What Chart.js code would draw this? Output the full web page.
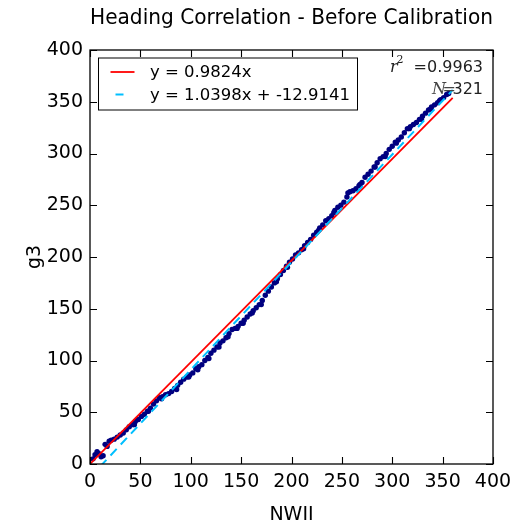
<!DOCTYPE html>
<html>
<head>
<meta charset="utf-8">
<script src="https://cdn.jsdelivr.net/npm/chart.js@4.4.1/dist/chart.umd.min.js"></script>
<style>
  html, body { margin: 0; padding: 0; background: #fff; }
  canvas { display: block; }
</style>
</head>
<body>
<canvas id="c" width="522" height="527" style="width:522px;height:527px"></canvas>
<script>
// ---- data ----
const nwiiValues = [3,5,7,9,11,13,15,17,19,21,24,27,30,33,36,39,42,45,48,51,54,57,60,63,66,69,72,75,78,81,84,87,90,93,96,99,102,105,108,111,114,117,120,123,126,129,132,135,138,141,144,147,150,153,156,159,162,165,168,171,174,177,180,183,186,189,192,195,198,201,204,207,210,213,216,219,222,225,228,231,234,237,240,243,246,249,252,255,258,261,264,267,270,273,276,279,282,285,288,291,294,297,300,303,306,309,312,315,318,321,324,327,330,333,336,339,342,345,348,351,354,356,
                    44,58,71,86,98,107,118,128,137,146,152,161,170,185,196,212,227,242,256,268,283,293,304,317,329,338,347];
const g3Values   = [5,9,12,10,7,8,19,17,22,23,24,26,28,30,33,36,38,41,43,46,48,51,54,58,61,64,65,67,68,70,73,76,79,82,84,86,88,92,94,96,100,103,107,110,113,117,119,122,126,130,131,133,136,139,142,145,148,151,154,158,163,167,171,175,179,183,187,191,195,198,202,204,207,211,214,217,221,224,228,231,235,237,240,245,248,250,253,258,263,264,266,269,272,277,280,283,287,291,295,297,300,304,307,311,313,316,320,324,326,328,330,333,336,339,342,345,347,349,352,354,357,358,
                    38,51,63,72,84,91,102,113,123,131,136,146,154,176,190,208,226,243,262,270,287,297,310,324,333,343,351];

const fitX        = [0, 360];
const fitOriginY  = [0, 353.66];     // y = 0.9824x
const fitLinearY  = [-12.91, 361.42]; // y = 1.0398x + -12.9141
const legendLabels = ['y = 0.9824x', 'y = 1.0398x + -12.9141'];
const xTickValues = [0, 50, 100, 150, 200, 250, 300, 350, 400];
const yTickValues = [0, 50, 100, 150, 200, 250, 300, 350, 400];
const statR2 = '0.9963';
const statN  = '321';
const titleText = 'Heading Correlation - Before Calibration';
const xLabel = 'NWII';
const yLabel = 'g3';

const FONT = "'DejaVu Sans', sans-serif";

const mplPlugin = {
  id: 'mplFrame',
  afterDraw(chart) {
    const ctx = chart.ctx;
    const a = chart.chartArea;
    const xs = chart.scales.x, ys = chart.scales.y;
    ctx.save();
    // frame
    ctx.strokeStyle = '#000';
    ctx.lineWidth = 1.3;
    ctx.strokeRect(a.left, a.top, a.right - a.left, a.bottom - a.top);
    // inward ticks on all sides
    const tl = 7;
    ctx.beginPath();
    xs.ticks.forEach(t => {
      const px = Math.round(xs.getPixelForValue(t.value)) + 0.5;
      ctx.moveTo(px, a.bottom); ctx.lineTo(px, a.bottom - tl);
      ctx.moveTo(px, a.top); ctx.lineTo(px, a.top + tl);
    });
    ys.ticks.forEach(t => {
      const py = Math.round(ys.getPixelForValue(t.value)) + 0.5;
      ctx.moveTo(a.left, py); ctx.lineTo(a.left + tl, py);
      ctx.moveTo(a.right, py); ctx.lineTo(a.right - tl, py);
    });
    ctx.lineWidth = 1.1;
    ctx.stroke();

    // legend box (upper left, inside axes)
    const lx = a.left + 8.5, ly = a.top + 8, lw = 259, lh = 52;
    ctx.fillStyle = '#fff';
    ctx.fillRect(lx, ly, lw, lh);
    ctx.lineWidth = 1;
    ctx.strokeStyle = '#000';
    ctx.strokeRect(lx, ly, lw, lh);
    ctx.font = '16.5px ' + FONT;
    ctx.textBaseline = 'middle';
    ctx.textAlign = 'left';
    legendLabels.forEach((lab, i) => {
      const ds = chart.data.datasets.find(d => d.label === lab);
      const yy = ly + 14 + i * 22.5;
      ctx.save();
      ctx.strokeStyle = ds.borderColor;
      ctx.lineWidth = ds.borderWidth;
      if (ds.borderDash) { ctx.setLineDash([8, 20]); ctx.lineDashOffset = -5; }
      ctx.beginPath();
      ctx.moveTo(lx + 12, yy); ctx.lineTo(lx + 36, yy);
      ctx.stroke();
      ctx.restore();
      ctx.fillStyle = '#000';
      ctx.fillText(lab, lx + 51.5, yy + 1);
    });

    // statistics text (upper right)
    const rx = a.right - 10;
    ctx.fillStyle = '#222';
    ctx.textBaseline = 'alphabetic';
    ctx.textAlign = 'right';
    ctx.font = '16px ' + FONT;
    ctx.fillText('=' + statR2, rx, a.top + 21.5);
    ctx.textAlign = 'left';
    ctx.font = "italic 16px 'DejaVu Serif', serif";
    ctx.fillText('r', rx - 93, a.top + 21.5);
    ctx.font = "11px 'DejaVu Serif', serif";
    ctx.fillText('2', rx - 86.5, a.top + 13);

    ctx.textAlign = 'right';
    ctx.font = '16px ' + FONT;
    ctx.fillText(statN, rx, a.top + 43.5);
    ctx.fillStyle = '#444';
    ctx.font = "16px 'DejaVu Serif', serif";
    ctx.fillText('=', rx - 27, a.top + 43.5);
    ctx.font = "italic 16px 'DejaVu Serif', serif";
    ctx.fillText('N', rx - 37, a.top + 43.5);
    ctx.restore();
  }
};

const points = nwiiValues.map((x, i) => ({ x: x, y: g3Values[i] }));

new Chart(document.getElementById('c'), {
  type: 'scatter',
  data: {
    datasets: [
      {
        type: 'line', label: legendLabels[1],
        data: fitX.map((x, i) => ({ x: x, y: fitLinearY[i] })),
        borderColor: '#00bfff', borderWidth: 2, borderDash: [9, 6],
        pointRadius: 0, fill: false, tension: 0
      },
      {
        type: 'line', label: legendLabels[0],
        data: fitX.map((x, i) => ({ x: x, y: fitOriginY[i] })),
        borderColor: '#ff0000', borderWidth: 1.8,
        pointRadius: 0, fill: false, tension: 0
      },
      {
        type: 'scatter', label: 'data', data: points,
        backgroundColor: '#000080', borderWidth: 0, pointRadius: 2.7
      }
    ]
  },
  options: {
    responsive: false,
    devicePixelRatio: 1,
    animation: false,
    events: [],
    layout: { padding: { left: 0, right: 29, top: 0, bottom: 0 } },
    plugins: {
      legend: { display: false },
      tooltip: { enabled: false },
      title: {
        display: true, text: titleText, fullSize: false,
        color: '#000', font: { family: FONT, size: 20.5, weight: 'normal', lineHeight: 1.2 },
        padding: { top: 6.5, bottom: 18.9 }
      }
    },
    scales: {
      x: {
        type: 'linear', min: 0, max: 400,
        afterBuildTicks: s => { s.ticks = xTickValues.map(v => ({ value: v })); },
        afterFit: s => { s.height = 63; },
        grid: { display: false, drawTicks: false },
        border: { display: false },
        ticks: { color: '#000', font: { family: FONT, size: 19 }, padding: 7, maxRotation: 0 },
        title: { display: true, text: xLabel, color: '#000', font: { family: FONT, size: 19 }, padding: { top: 0, bottom: 1 } }
      },
      y: {
        type: 'linear', min: 0, max: 400,
        afterBuildTicks: s => { s.ticks = yTickValues.map(v => ({ value: v })); },
        afterFit: s => { s.width = 90; },
        grid: { display: false, drawTicks: false },
        border: { display: false },
        ticks: { color: '#000', font: { family: FONT, size: 19 }, padding: 7 },
        title: { display: true, text: yLabel, color: '#000', font: { family: FONT, size: 19 }, padding: { top: 24, bottom: 0 } }
      }
    }
  },
  plugins: [mplPlugin]
});
</script>
</body>
</html>
